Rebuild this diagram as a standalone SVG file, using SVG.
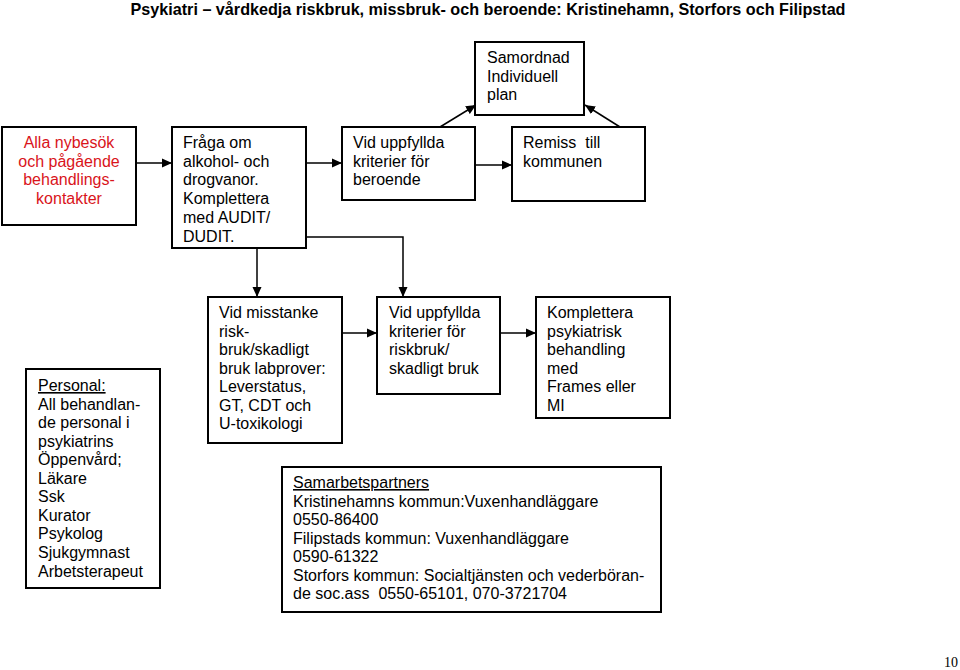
<svg xmlns="http://www.w3.org/2000/svg" width="960" height="670" viewBox="0 0 960 670">
<style>
.box{fill:#fff;stroke:#000;stroke-width:2}
.t{font-family:"Liberation Sans",Arial,sans-serif;font-size:16px;fill:#000}
.red{fill:#d9141b}
.c{fill:none;stroke:#000;stroke-width:1.5}
.u{text-decoration:underline}
</style>
<defs>
<marker id="ah" markerUnits="userSpaceOnUse" markerWidth="10" markerHeight="10" viewBox="0 0 10 10" refX="10" refY="5" orient="auto">
<path d="M0,0.5 L10,5 L0,9.5 z" fill="#000"/>
</marker>
</defs>
<rect width="960" height="670" fill="#fff"/>
<text x="488" y="15" text-anchor="middle" font-family="Liberation Sans,Arial,sans-serif" font-weight="bold" font-size="17" textLength="715" lengthAdjust="spacingAndGlyphs">Psykiatri – vårdkedja riskbruk, missbruk- och beroende: Kristinehamn, Storfors och Filipstad</text>

<g id="connectors">
<line class="c" x1="136" y1="163" x2="172" y2="163" marker-end="url(#ah)"/>
<line class="c" x1="306" y1="163" x2="342" y2="163" marker-end="url(#ah)"/>
<line class="c" x1="475" y1="165" x2="512" y2="165" marker-end="url(#ah)"/>
<line class="c" x1="440" y1="127" x2="476" y2="105" marker-end="url(#ah)"/>
<line class="c" x1="620" y1="127" x2="585" y2="105" marker-end="url(#ah)"/>
<line class="c" x1="257" y1="248" x2="257" y2="297" marker-end="url(#ah)"/>
<polyline class="c" points="306,237 403,237 403,297" marker-end="url(#ah)"/>
<line class="c" x1="342" y1="333" x2="377" y2="333" marker-end="url(#ah)"/>
<line class="c" x1="500" y1="333" x2="536" y2="333" marker-end="url(#ah)"/>
</g>

<g id="n-alla">
<rect class="box" x="2" y="127" width="134" height="98"/>
<text class="t red" text-anchor="middle"><tspan x="69" y="148">Alla nybesök</tspan><tspan x="69" y="167">och pågående</tspan><tspan x="69" y="185">behandlings-</tspan><tspan x="69" y="204">kontakter</tspan></text>
</g>

<g id="n-fraga">
<rect class="box" x="172" y="127" width="134" height="121"/>
<text class="t"><tspan x="183" y="148">Fråga om</tspan><tspan x="183" y="167">alkohol- och</tspan><tspan x="183" y="185">drogvanor.</tspan><tspan x="183" y="204">Komplettera</tspan><tspan x="183" y="223">med AUDIT/</tspan><tspan x="183" y="242">DUDIT.</tspan></text>
</g>

<g id="n-beroende">
<rect class="box" x="342" y="127" width="133" height="73"/>
<text class="t"><tspan x="353" y="148">Vid uppfyllda</tspan><tspan x="353" y="167">kriterier för</tspan><tspan x="353" y="185">beroende</tspan></text>
</g>

<g id="n-samordnad">
<rect class="box" x="475" y="42" width="109" height="73"/>
<text class="t"><tspan x="487" y="63">Samordnad</tspan><tspan x="487" y="82">Individuell</tspan><tspan x="487" y="100">plan</tspan></text>
</g>

<g id="n-remiss">
<rect class="box" x="512" y="127" width="133" height="74"/>
<text class="t"><tspan x="523" y="148" xml:space="preserve">Remiss  till</tspan><tspan x="523" y="167">kommunen</tspan></text>
</g>

<g id="n-personal">
<rect class="box" x="26" y="369" width="134" height="219"/>
<text class="t"><tspan x="38" y="391" class="u">Personal:</tspan><tspan x="38" y="410">All behandlan-</tspan><tspan x="38" y="428">de personal i</tspan><tspan x="38" y="447">psykiatrins</tspan><tspan x="38" y="465">Öppenvård;</tspan><tspan x="38" y="484">Läkare</tspan><tspan x="38" y="502">Ssk</tspan><tspan x="38" y="521">Kurator</tspan><tspan x="38" y="539">Psykolog</tspan><tspan x="38" y="558">Sjukgymnast</tspan><tspan x="38" y="577">Arbetsterapeut</tspan></text>
</g>

<g id="n-misstanke">
<rect class="box" x="208" y="297" width="134" height="146"/>
<text class="t"><tspan x="219" y="318">Vid misstanke</tspan><tspan x="219" y="337">risk-</tspan><tspan x="219" y="355">bruk/skadligt</tspan><tspan x="219" y="374">bruk labprover:</tspan><tspan x="219" y="392">Leverstatus,</tspan><tspan x="219" y="411">GT, CDT och</tspan><tspan x="219" y="429">U-toxikologi</tspan></text>
</g>

<g id="n-riskbruk">
<rect class="box" x="377" y="297" width="123" height="97"/>
<text class="t"><tspan x="389" y="318">Vid uppfyllda</tspan><tspan x="389" y="337">kriterier för</tspan><tspan x="389" y="355">riskbruk/</tspan><tspan x="389" y="374">skadligt bruk</tspan></text>
</g>

<g id="n-komplettera">
<rect class="box" x="536" y="297" width="134" height="121"/>
<text class="t"><tspan x="547" y="318">Komplettera</tspan><tspan x="547" y="337">psykiatrisk</tspan><tspan x="547" y="355">behandling</tspan><tspan x="547" y="374">med</tspan><tspan x="547" y="392">Frames eller</tspan><tspan x="547" y="411">MI</tspan></text>
</g>

<g id="n-samarbete">
<rect class="box" x="282" y="467" width="379" height="145"/>
<text class="t"><tspan x="293" y="488" class="u">Samarbetspartners</tspan><tspan x="293" y="507">Kristinehamns kommun:Vuxenhandläggare</tspan><tspan x="293" y="525">0550-86400</tspan><tspan x="293" y="544">Filipstads kommun: Vuxenhandläggare</tspan><tspan x="293" y="562">0590-61322</tspan><tspan x="293" y="581">Storfors kommun: Socialtjänsten och vederböran-</tspan><tspan x="293" y="599" xml:space="preserve">de soc.ass  0550-65101, 070-3721704</tspan></text>
</g>

<text x="958" y="667" text-anchor="end" font-family="Liberation Serif,Times New Roman,serif" font-size="14">10</text>
</svg>
